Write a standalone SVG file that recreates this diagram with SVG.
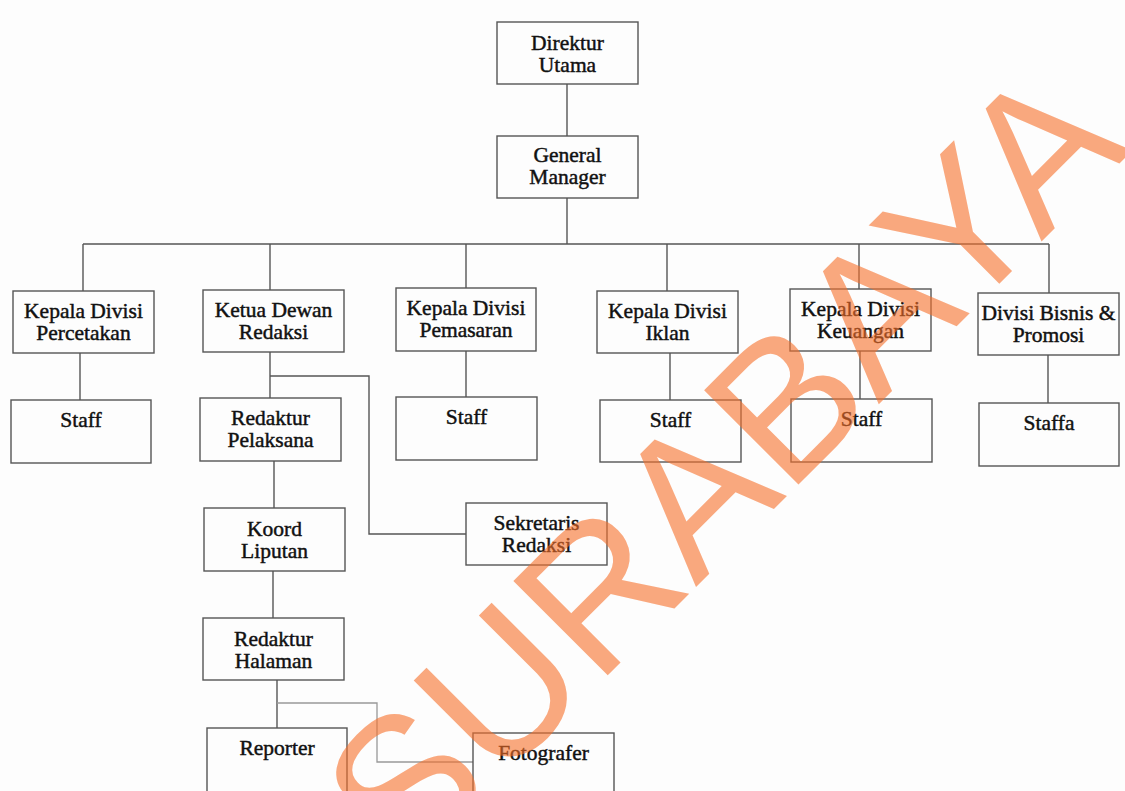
<svg xmlns="http://www.w3.org/2000/svg" width="1125" height="791" viewBox="0 0 1125 791">
<style>
.box{fill:#fdfdfd;stroke:#555;stroke-width:1.4}
.t{font-family:"Liberation Serif","Times New Roman",serif;font-size:21.5px;fill:#111;stroke:#111;stroke-width:0.45;text-anchor:middle}
.c{fill:none;stroke:#555;stroke-width:1.4}
.c2{fill:none;stroke:#999;stroke-width:1.3}
.wm{font-family:"Liberation Sans",Arial,sans-serif;font-size:194px;fill:#F7702A;fill-opacity:0.6}
</style>
<rect x="0" y="0" width="1125" height="791" fill="#fdfdfd"/>
<g id="connectors">
<path class="c" d="M567,84 V136"/>
<path class="c" d="M567,198 V244"/>
<path class="c" d="M83,244 H1049"/>
<path class="c" d="M83,244 V291"/>
<path class="c" d="M270,244 V290"/>
<path class="c" d="M466,244 V288"/>
<path class="c" d="M667,244 V291"/>
<path class="c" d="M859,244 V289"/>
<path class="c" d="M1049,244 V293"/>
<path class="c" d="M80,353 V400"/>
<path class="c" d="M270,352 V398"/>
<path class="c" d="M270,376 H369 V534 H466"/>
<path class="c" d="M466,351 V397"/>
<path class="c" d="M670,353 V400"/>
<path class="c" d="M860,351 V399"/>
<path class="c" d="M1048,355 V403"/>
<path class="c" d="M274,461 V508"/>
<path class="c" d="M273,571 V618"/>
<path class="c" d="M277,680 V728"/>
<path class="c2" d="M277,703 H377 V762 H473"/>
</g>
<g id="direktur-utama"><rect class="box" x="497" y="22" width="141" height="62"/><text class="t" x="567.5" y="50">Direktur</text><text class="t" x="567.5" y="72">Utama</text></g>
<g id="general-manager"><rect class="box" x="497" y="136" width="141" height="62"/><text class="t" x="567.5" y="162">General</text><text class="t" x="567.5" y="184">Manager</text></g>
<g id="kd-percetakan"><rect class="box" x="13" y="291" width="141" height="62"/><text class="t" x="83.5" y="318">Kepala Divisi</text><text class="t" x="83.5" y="340">Percetakan</text></g>
<g id="ketua-dewan"><rect class="box" x="203" y="290" width="141" height="62"/><text class="t" x="273.5" y="317">Ketua Dewan</text><text class="t" x="273.5" y="339">Redaksi</text></g>
<g id="kd-pemasaran"><rect class="box" x="396" y="288" width="140" height="63"/><text class="t" x="466" y="315">Kepala Divisi</text><text class="t" x="466" y="337">Pemasaran</text></g>
<g id="kd-iklan"><rect class="box" x="597" y="291" width="141" height="62"/><text class="t" x="667.5" y="318">Kepala Divisi</text><text class="t" x="667.5" y="340">Iklan</text></g>
<g id="kd-keuangan"><rect class="box" x="790" y="289" width="141" height="62"/><text class="t" x="860.5" y="316">Kepala Divisi</text><text class="t" x="860.5" y="338">Keuangan</text></g>
<g id="divisi-bisnis"><rect class="box" x="978" y="293" width="141" height="62"/><text class="t" x="1048.5" y="320">Divisi Bisnis &amp;</text><text class="t" x="1048.5" y="342">Promosi</text></g>
<g id="staff-percetakan"><rect class="box" x="11" y="400" width="140" height="63"/><text class="t" x="81" y="427">Staff</text></g>
<g id="redaktur-pelaksana"><rect class="box" x="200" y="398" width="141" height="63"/><text class="t" x="270.5" y="425">Redaktur</text><text class="t" x="270.5" y="447">Pelaksana</text></g>
<g id="staff-pemasaran"><rect class="box" x="396" y="397" width="141" height="63"/><text class="t" x="466.5" y="424">Staff</text></g>
<g id="staff-iklan"><rect class="box" x="600" y="400" width="141" height="62"/><text class="t" x="670.5" y="427">Staff</text></g>
<g id="staff-keuangan"><rect class="box" x="791" y="399" width="141" height="63"/><text class="t" x="861.5" y="426">Staff</text></g>
<g id="staffa"><rect class="box" x="979" y="403" width="140" height="63"/><text class="t" x="1049" y="430">Staffa</text></g>
<g id="sekretaris-redaksi"><rect class="box" x="466" y="503" width="141" height="62"/><text class="t" x="536.5" y="530">Sekretaris</text><text class="t" x="536.5" y="552">Redaksi</text></g>
<g id="koord-liputan"><rect class="box" x="204" y="508" width="141" height="63"/><text class="t" x="274.5" y="536">Koord</text><text class="t" x="274.5" y="558">Liputan</text></g>
<g id="redaktur-halaman"><rect class="box" x="203" y="618" width="141" height="62"/><text class="t" x="273.5" y="646">Redaktur</text><text class="t" x="273.5" y="668">Halaman</text></g>
<g id="reporter"><rect class="box" x="207" y="728" width="140" height="70"/><text class="t" x="277" y="755">Reporter</text></g>
<g id="fotografer"><rect class="box" x="473" y="733" width="141" height="70"/><text class="t" x="543.5" y="760">Fotografer</text></g>
<text class="wm" transform="translate(406,877) rotate(-45)" x="0" y="0">SURABAYA</text>
</svg>
